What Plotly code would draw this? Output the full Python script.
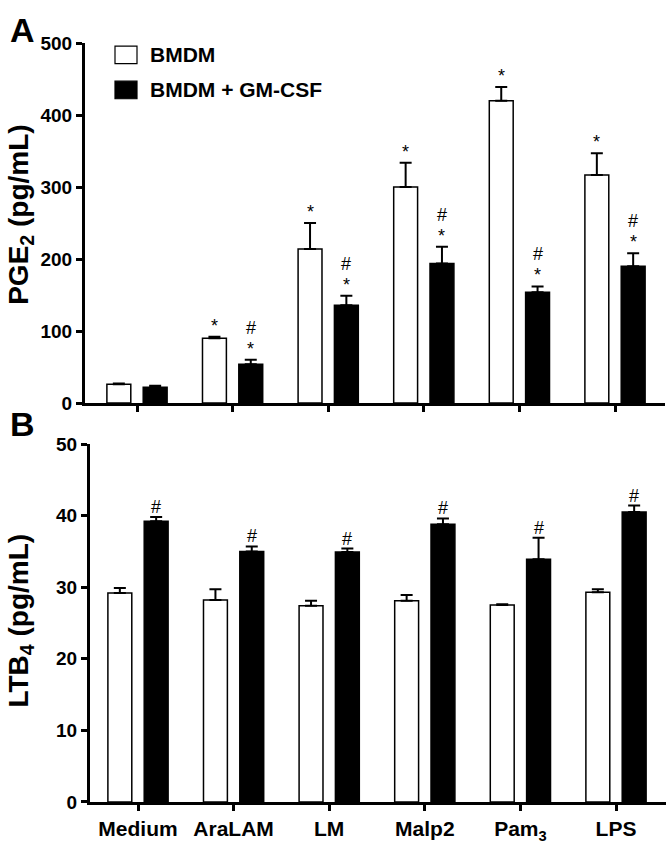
import plotly.graph_objects as go

# ---------------- data ----------------
categories = ["Medium", "AraLAM", "LM", "Malp2", "Pam<sub>3</sub>", "LPS"]
series_names = ["BMDM", "BMDM + GM-CSF"]

pge2_bmdm = [26, 90, 214, 300, 420, 317]
pge2_bmdm_err = [1, 2, 36, 34, 19, 30]
pge2_gm = [22, 54, 136, 194, 154, 190]
pge2_gm_err = [2, 6, 13, 23, 8, 18]
pge2_bmdm_sig = ["", "*", "*", "*", "*", "*"]
pge2_gm_sig_hash = ["", "#", "#", "#", "#", "#"]
pge2_gm_sig_star = ["", "*", "*", "*", "*", "*"]

ltb4_bmdm = [29.2, 28.2, 27.4, 28.1, 27.5, 29.3]
ltb4_bmdm_err = [0.7, 1.5, 0.7, 0.8, 0.1, 0.4]
ltb4_gm = [39.2, 35.0, 34.9, 38.8, 33.9, 40.5]
ltb4_gm_err = [0.6, 0.7, 0.5, 0.8, 3.0, 0.9]
ltb4_gm_sig = ["#", "#", "#", "#", "#", "#"]

pge2_ticks = [0, 100, 200, 300, 400, 500]
ltb4_ticks = [0, 10, 20, 30, 40, 50]

# ---------------- figure ----------------
W, H = 672, 850
FONT = "Liberation Sans, Arial, sans-serif"
xs = list(range(len(categories)))
BW = 0.25
OFF = 0.19
SIG = 18

fig = go.Figure()

def add_pair(vals_w, err_w, vals_b, err_b, xa, ya):
    fig.add_trace(go.Bar(
        x=xs, y=vals_w, width=BW, offset=-OFF - BW / 2, name=series_names[0],
        marker=dict(color="white", line=dict(color="black", width=1.5)),
        error_y=dict(type="data", symmetric=False, array=err_w,
                     arrayminus=[0] * len(err_w), color="black", thickness=2, width=6),
        xaxis=xa, yaxis=ya, showlegend=False))
    fig.add_trace(go.Bar(
        x=xs, y=vals_b, width=BW, offset=OFF - BW / 2, name=series_names[1],
        marker=dict(color="black", line=dict(color="black", width=1.5)),
        error_y=dict(type="data", symmetric=False, array=err_b,
                     arrayminus=[0] * len(err_b), color="black", thickness=2, width=6),
        xaxis=xa, yaxis=ya, showlegend=False))

add_pair(pge2_bmdm, pge2_bmdm_err, pge2_gm, pge2_gm_err, "x", "y")
add_pair(ltb4_bmdm, ltb4_bmdm_err, ltb4_gm, ltb4_gm_err, "x2", "y2")

annotations = []
def sig(xa, ya, x, y, text, yshift):
    if text:
        annotations.append(dict(xref=xa, yref=ya, x=x, y=y, text=text, showarrow=False,
                                xanchor="center", yanchor="bottom", yshift=yshift,
                                font=dict(family=FONT, size=SIG, color="black")))

for i in xs:
    sig("x", "y", i - OFF, pge2_bmdm[i] + pge2_bmdm_err[i], pge2_bmdm_sig[i], -1)
    sig("x", "y", i + OFF, pge2_gm[i] + pge2_gm_err[i], pge2_gm_sig_star[i], -1)
    sig("x", "y", i + OFF, pge2_gm[i] + pge2_gm_err[i], pge2_gm_sig_hash[i], 20)
    sig("x2", "y2", i + OFF, ltb4_gm[i] + ltb4_gm_err[i], ltb4_gm_sig[i], -2)

def label(x, y, text, size, xanchor="center", angle=0):
    annotations.append(dict(xref="paper", yref="paper", x=x / W, y=1 - y / H, text=text,
                            showarrow=False, xanchor=xanchor, yanchor="middle",
                            textangle=angle, font=dict(family=FONT, size=size, color="black")))

# panel letters
label(22, 21, "<b>A</b>", 34)
label(22, 424, "<b>B</b>", 34)
# axis titles
label(21, 210, "<b>PGE<sub>2</sub> (pg/mL)</b>", 28, angle=-90)
label(21, 626, "<b>LTB<sub>4</sub> (pg/mL)</b>", 28, angle=-90)
# legend text
label(148, 46, "<b>BMDM</b>", 21, xanchor="left")
label(148, 82, "<b>BMDM + GM-CSF</b>", 21, xanchor="left")

shapes = [
    dict(type="rect", xref="paper", yref="paper", x0=115 / W, x1=137 / W,
         y0=1 - 55 / H, y1=1 - 37 / H, line=dict(color="black", width=1.2), fillcolor="white"),
    dict(type="rect", xref="paper", yref="paper", x0=115 / W, x1=137 / W,
         y0=1 - 91 / H, y1=1 - 73 / H, line=dict(color="black", width=1.2), fillcolor="black"),
]

axis_common = dict(showline=True, linecolor="black", linewidth=3, ticks="outside",
                   tickcolor="black", tickwidth=3, ticklen=6, showgrid=False, zeroline=False)
tickfont = dict(family=FONT, size=19, color="black")

sp = 95.6
fig.update_layout(
    width=W, height=H, margin=dict(l=0, r=0, t=0, b=0),
    paper_bgcolor="white", plot_bgcolor="white", barmode="overlay",
    showlegend=False,
    xaxis=dict(domain=[85 / W, 665 / W], range=[-(137 - 85) / sp, 5 + (665 - 615) / sp],
               tickvals=xs, showticklabels=False, anchor="y", **axis_common),
    yaxis=dict(domain=[1 - 403 / H, 1 - 34 / H], range=[0, 500], tickvals=pge2_ticks,
               ticktext=[f"<b>{t}</b>" for t in pge2_ticks], anchor="x", tickfont=tickfont,
               **axis_common),
    xaxis2=dict(domain=[90 / W, 666 / W], range=[-(138 - 90) / sp, 5 + (666 - 616) / sp],
                tickvals=xs, ticktext=[f"<b>{c}</b>" for c in categories], anchor="y2",
                tickfont=dict(family=FONT, size=21, color="black"), **axis_common),
    yaxis2=dict(domain=[1 - 812 / H, 1 - 445 / H], range=[0, 50], tickvals=ltb4_ticks,
                ticktext=[f"<b>{t}</b>" for t in ltb4_ticks], anchor="x2", tickfont=tickfont,
                **axis_common),
    annotations=annotations, shapes=shapes,
)

fig.write_html("out.html", config={"displayModeBar": False},
               post_script="document.body.style.margin='0';document.body.style.overflow='hidden';")
